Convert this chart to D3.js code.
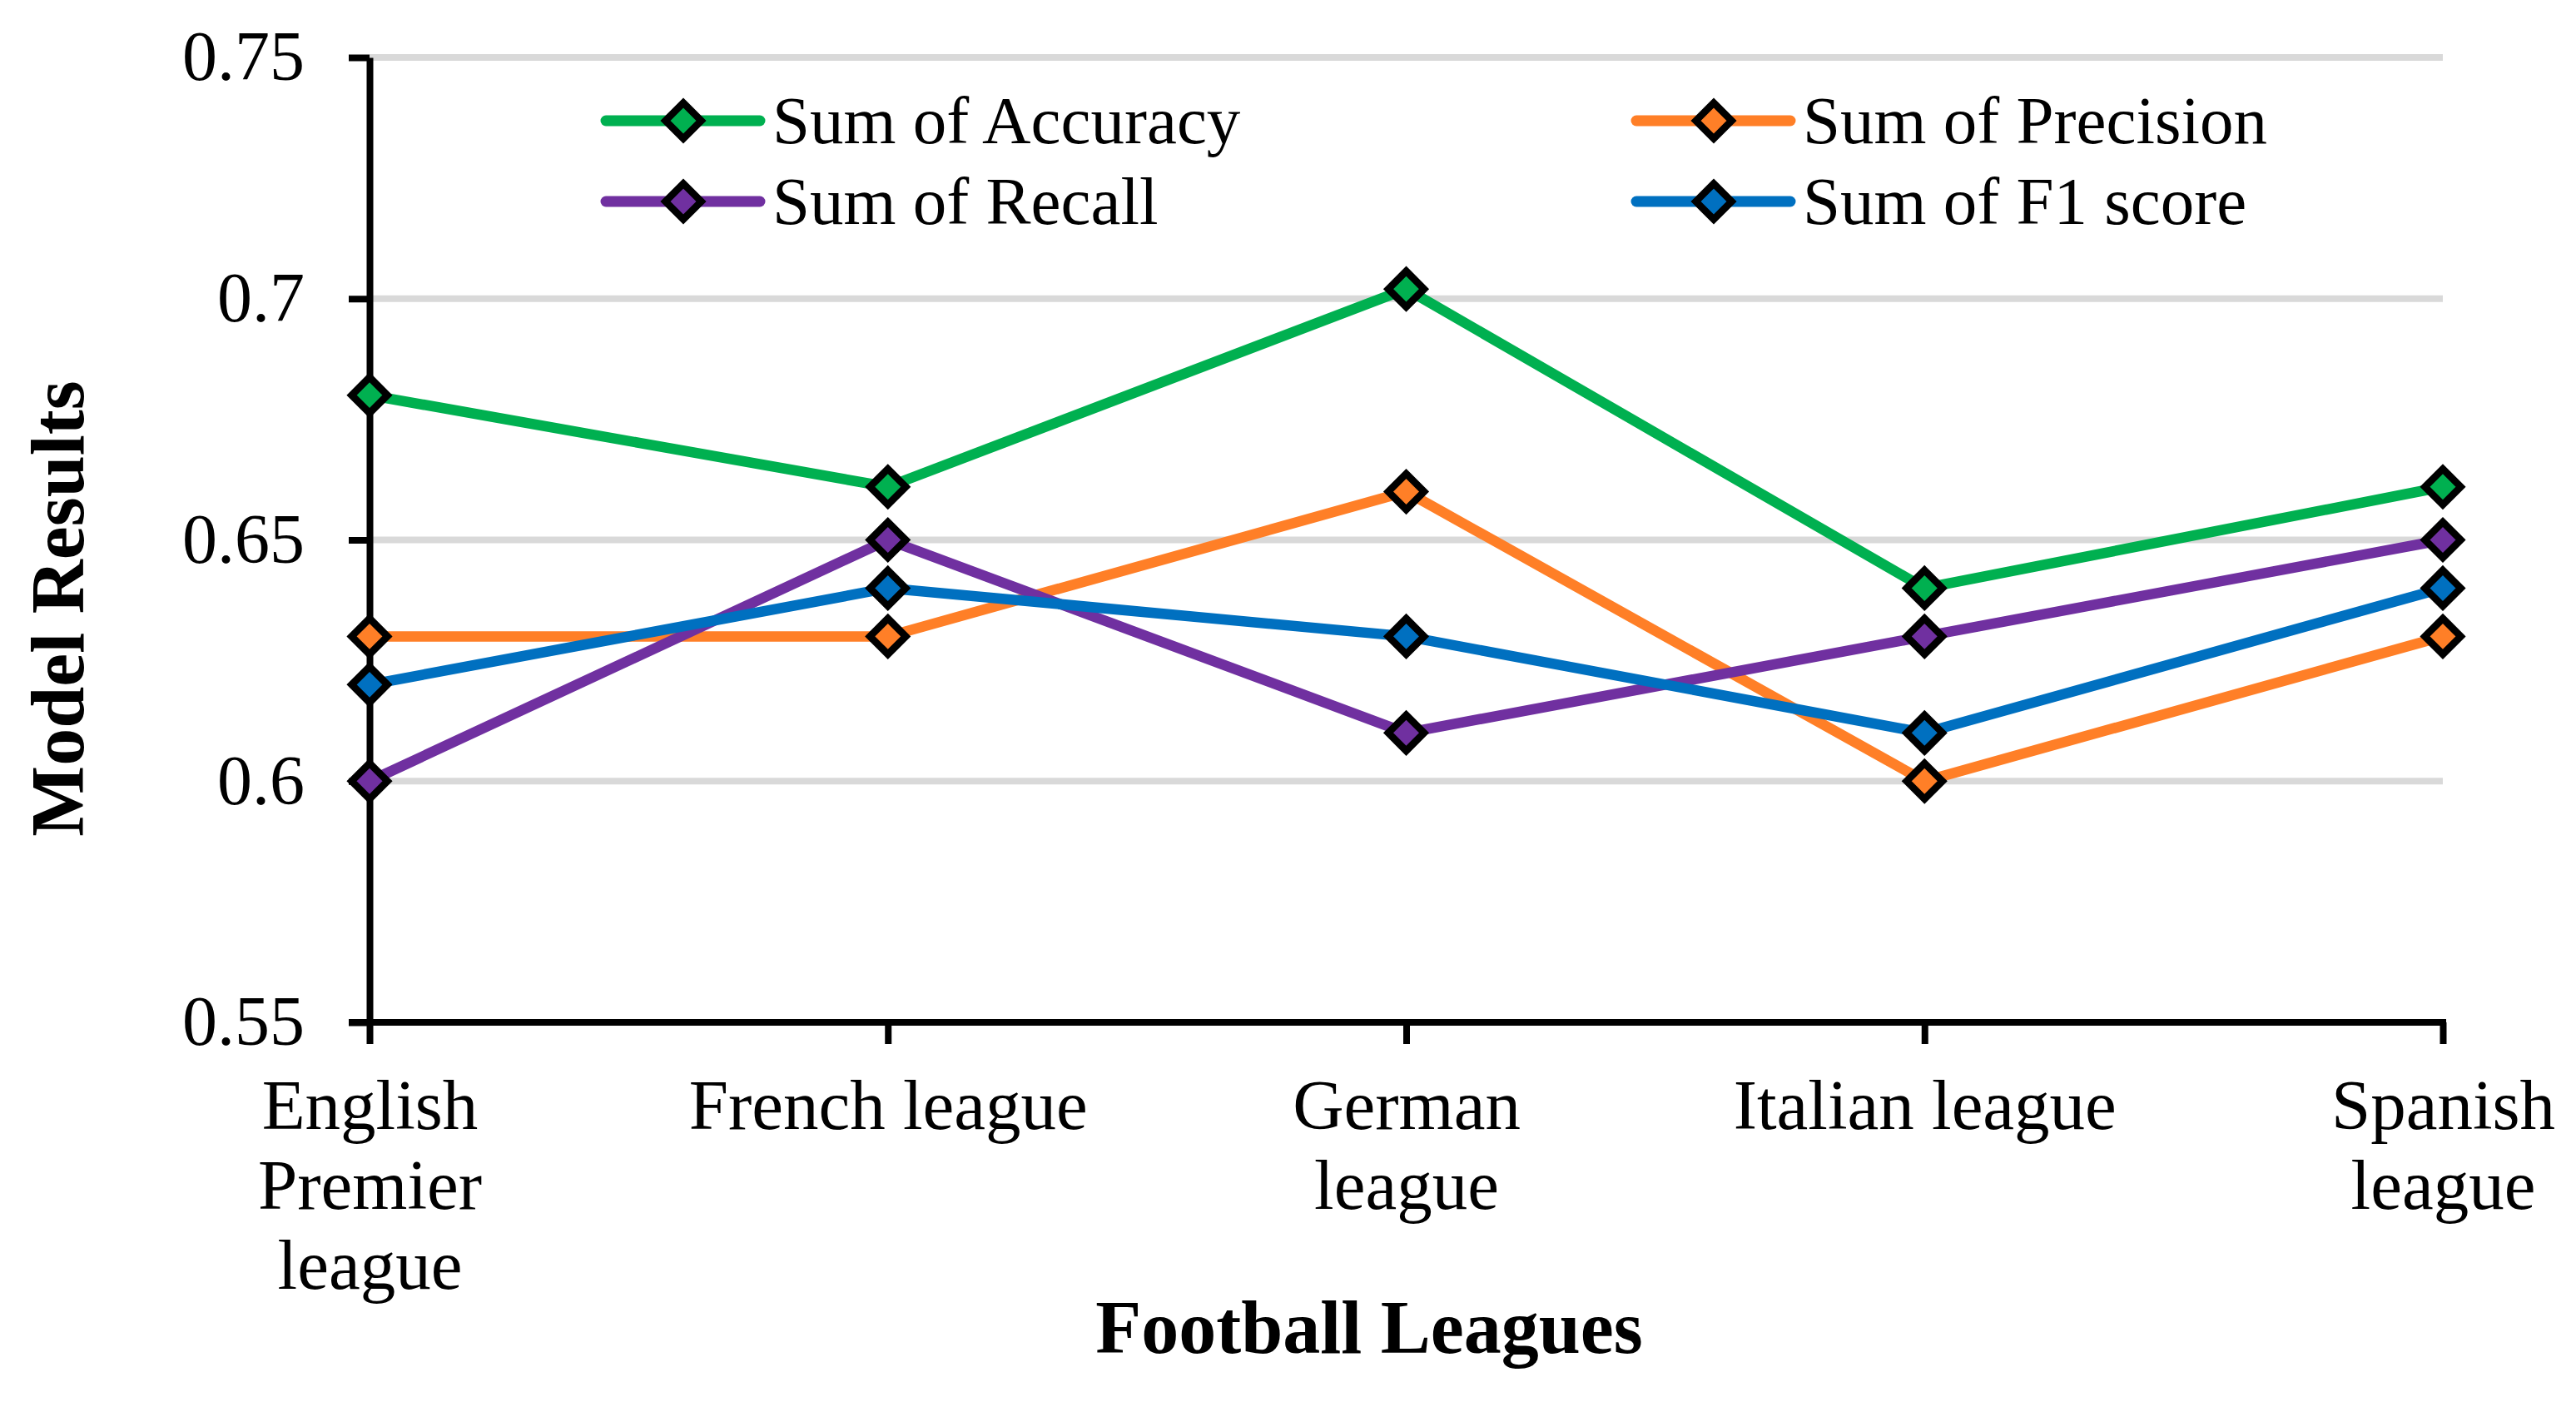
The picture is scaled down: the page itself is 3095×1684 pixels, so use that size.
<!DOCTYPE html>
<html>
<head>
<meta charset="utf-8">
<script src="https://cdn.jsdelivr.net/npm/d3@7"></script>
<style>
  html, body { margin: 0; padding: 0; background: #fff; }
  svg { display: block; }
  text { font-family: "Liberation Serif", "Times New Roman", serif; fill: #000; }
</style>
</head>
<body>
<svg id="chart" width="3095" height="1684"></svg>
<script>
// ---- data ----
const categories = ["English Premier league", "French league", "German league", "Italian league", "Spanish league"];
const categoryLines = [["English", "Premier", "league"], ["French league"], ["German", "league"], ["Italian league"], ["Spanish", "league"]];
const accuracy  = [0.68, 0.661, 0.702, 0.64, 0.661];
const precision = [0.63, 0.63, 0.66, 0.60, 0.63];
const recall    = [0.60, 0.65, 0.61, 0.63, 0.65];
const f1score   = [0.62, 0.64, 0.63, 0.61, 0.64];
const seriesNames = ["Sum of Accuracy", "Sum of Precision", "Sum of Recall", "Sum of F1 score"];
const seriesColors = ["#00B050", "#FF7F27", "#7030A0", "#0070C0"];
const yTickValues = [0.55, 0.6, 0.65, 0.7, 0.75];
const yTickLabels = ["0.55", "0.6", "0.65", "0.7", "0.75"];
const yTitle = "Model Results";
const xTitle = "Football Leagues";

const seriesValues = [accuracy, precision, recall, f1score];

// ---- layout ----
const svg = d3.select("#chart");
const plot = { left: 444, right: 2935, top: 69, bottom: 1228 };

const x = d3.scalePoint().domain(categories).range([plot.left, plot.right]);
const y = d3.scaleLinear().domain([0.55, 0.75]).range([plot.bottom, plot.top]);

// gridlines
svg.append("g").selectAll("line")
  .data(yTickValues.filter(v => v > 0.55))
  .join("line")
  .attr("x1", plot.left).attr("x2", plot.right)
  .attr("y1", d => y(d)).attr("y2", d => y(d))
  .attr("stroke", "#d9d9d9").attr("stroke-width", 8);

// y axis
const yAxis = svg.append("g")
  .attr("transform", `translate(${plot.left},0)`)
  .call(d3.axisLeft(y).tickValues(yTickValues)
    .tickFormat((d, i) => yTickLabels[i])
    .tickSize(25).tickSizeOuter(0).tickPadding(53));
yAxis.select(".domain").attr("stroke", "#000").attr("stroke-width", 8);
yAxis.selectAll(".tick line").attr("stroke", "#000").attr("stroke-width", 8);
yAxis.selectAll(".tick text")
  .attr("font-family", "'Liberation Serif', 'Times New Roman', serif")
  .attr("font-size", 84).attr("fill", "#000").attr("dy", "0.32em");

// x axis
const xAxis = svg.append("g")
  .attr("transform", `translate(0,${plot.bottom})`)
  .call(d3.axisBottom(x).tickSize(26).tickSizeOuter(0).tickFormat(""));
xAxis.select(".domain").attr("stroke", "#000").attr("stroke-width", 8)
  .attr("d", `M${plot.left - 25},0H${plot.right + 4}`);
xAxis.selectAll(".tick line").attr("stroke", "#000").attr("stroke-width", 8);
xAxis.selectAll(".tick text").remove();
xAxis.selectAll(".tick").each(function(d, i) {
  const t = d3.select(this).append("text")
    .attr("text-anchor", "middle")
    .attr("font-family", "'Liberation Serif', 'Times New Roman', serif")
    .attr("font-size", 85).attr("fill", "#000")
    .attr("y", 128);
  categoryLines[i].forEach((ln, k) => {
    t.append("tspan").attr("x", 0).attr("dy", k === 0 ? 0 : 96).text(ln);
  });
});

// series lines & markers
const line = d3.line().x((d, i) => x(categories[i])).y(d => y(d));
const diamond = r => `M0,${-r}L${r},0L0,${r}L${-r},0Z`;

seriesValues.forEach((vals, s) => {
  const g = svg.append("g");
  g.append("path").datum(vals)
    .attr("d", line)
    .attr("fill", "none")
    .attr("stroke", seriesColors[s])
    .attr("stroke-width", 12.5)
    .attr("stroke-linejoin", "round");
  g.selectAll("path.m").data(vals).join("path")
    .attr("class", "m")
    .attr("transform", (d, i) => `translate(${x(categories[i])},${y(d)})`)
    .attr("d", diamond(21.5))
    .attr("fill", seriesColors[s])
    .attr("stroke", "#000")
    .attr("stroke-width", 8.6)
    .attr("stroke-linejoin", "miter");
});

// legend (2 columns: Accuracy/Recall, Precision/F1)
const legendPos = [
  { x: 728, y: 145 },   // Accuracy
  { x: 1966, y: 145 },  // Precision
  { x: 728, y: 242 },   // Recall
  { x: 1966, y: 242 }   // F1
];
seriesNames.forEach((name, s) => {
  const p = legendPos[s];
  const g = svg.append("g").attr("transform", `translate(${p.x},${p.y})`);
  g.append("line").attr("x1", 0).attr("x2", 185).attr("y1", 0).attr("y2", 0)
    .attr("stroke", seriesColors[s]).attr("stroke-width", 13).attr("stroke-linecap", "round");
  g.append("path").attr("transform", "translate(93,0)")
    .attr("d", diamond(21.5))
    .attr("fill", seriesColors[s]).attr("stroke", "#000").attr("stroke-width", 8.6);
  g.append("text").attr("x", 200).attr("y", 0).attr("dy", "0.33em")
    .attr("font-size", 81).text(name);
});

// axis titles
svg.append("text")
  .attr("transform", "translate(100,731) rotate(-90)")
  .attr("text-anchor", "middle")
  .attr("font-size", 90).attr("font-weight", "bold")
  .text(yTitle);

svg.append("text")
  .attr("x", 1645).attr("y", 1625)
  .attr("text-anchor", "middle")
  .attr("font-size", 90).attr("font-weight", "bold")
  .text(xTitle);
</script>
</body>
</html>
